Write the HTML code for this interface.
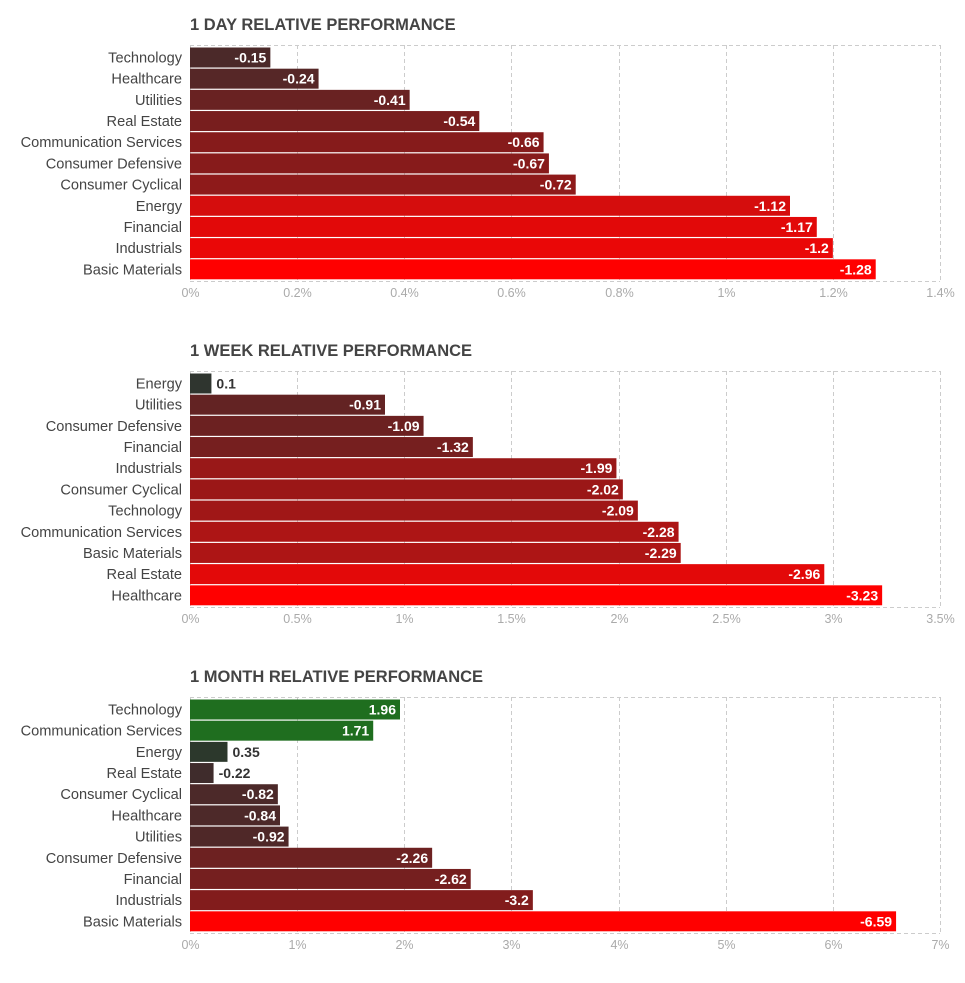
<!DOCTYPE html>
<html><head><meta charset="utf-8">
<style>
body{margin:0;background:#fff;width:965px;height:978px;overflow:hidden;font-family:"Liberation Sans",sans-serif}
svg text{font-family:"Liberation Sans",sans-serif}
</style></head>
<body>
<svg id="s" width="965" height="978"></svg>
<script>
const dayCats=["Technology","Healthcare","Utilities","Real Estate","Communication Services","Consumer Defensive","Consumer Cyclical","Energy","Financial","Industrials","Basic Materials"];
const dayVals=[-0.15,-0.24,-0.41,-0.54,-0.66,-0.67,-0.72,-1.12,-1.17,-1.2,-1.28];
const dayTicks=["0%","0.2%","0.4%","0.6%","0.8%","1%","1.2%","1.4%"];
const weekCats=["Energy","Utilities","Consumer Defensive","Financial","Industrials","Consumer Cyclical","Technology","Communication Services","Basic Materials","Real Estate","Healthcare"];
const weekVals=[0.1,-0.91,-1.09,-1.32,-1.99,-2.02,-2.09,-2.28,-2.29,-2.96,-3.23];
const weekTicks=["0%","0.5%","1%","1.5%","2%","2.5%","3%","3.5%"];
const monthCats=["Technology","Communication Services","Energy","Real Estate","Consumer Cyclical","Healthcare","Utilities","Consumer Defensive","Financial","Industrials","Basic Materials"];
const monthVals=[1.96,1.71,0.35,-0.22,-0.82,-0.84,-0.92,-2.26,-2.62,-3.2,-6.59];
const monthTicks=["0%","1%","2%","3%","4%","5%","6%","7%"];
const dayMax=1.4, weekMax=3.5, monthMax=7;

const NS="http://www.w3.org/2000/svg";
const svg=document.getElementById('s');
function mk(t,a,p){const e=document.createElementNS(NS,t);for(const k in a)e.setAttribute(k,a[k]);(p||svg).appendChild(e);return e;}
function lerp(a,b,t){return a.map((v,i)=>Math.round(v+(b[i]-v)*t));}
function color(v,maxAbs){
  if(v>=0){const t=Math.min(1,v/1.5);const c=t<0.5?lerp([48,52,48],[40,60,40],t/0.5):lerp([40,60,40],[31,110,31],(t-0.5)/0.5);return `rgb(${c})`;}
  const t=Math.min(1,Math.abs(v)/maxAbs);
  let c;
  if(t<0.55)c=lerp([58,45,45],[139,26,26],t/0.55);
  else if(t<0.85)c=lerp([139,26,26],[204,16,16],(t-0.55)/0.3);
  else c=lerp([204,16,16],[255,0,0],(t-0.85)/0.15);
  return `rgb(${c})`;
}
function chart(name,title,cats,vals,ticks,max,top){
  const g=mk('g',{});
  
  
  const x0=190,x1=940,y0=top,y1=top+236;
  const xs=v=>x0+Math.abs(v)/max*(x1-x0);
  const tt=mk('text',{x:190,y:top-15,'font-size':16.5,'font-weight':'bold',fill:'#444'},g);
  tt.textContent=title;
  
  
  mk('line',{x1:x0,x2:x1,y1:y0+0.5,y2:y0+0.5,stroke:'#ccc','stroke-dasharray':'4,3'},g);
  mk('line',{x1:x0,x2:x1,y1:y1+0.5,y2:y1+0.5,stroke:'#ccc','stroke-dasharray':'4,3'},g);
  ticks.forEach((t,i)=>{
    const v=max*i/(ticks.length-1);const x=Math.round(xs(v))+0.5;
    mk('line',{x1:x,x2:x,y1:y0,y2:y1,stroke:'#ccc','stroke-dasharray':'4,3'},g);
    const tx=mk('text',{x:x,y:y1+16,'font-size':12.5,fill:'#aaa','text-anchor':'middle'},g);
    tx.textContent=t;
    
    
  });
  const ph=233/11;
  const mx=Math.max(...vals.map(Math.abs));
  cats.forEach((c,i)=>{
    const yt=y0+2.5+i*ph, v=vals[i], w=xs(v)-x0;
    const r=mk('rect',{x:x0,y:yt,width:w,height:ph-1.2,fill:color(v,mx)},g);
    
    
    const cl=mk('text',{x:182,y:yt+15,'font-size':14.6,fill:'#444','text-anchor':'end'},g);
    cl.textContent=c;
    
    
    const lab=String(v);
    const inside=w>50;
    const vl=mk('text',{x:inside?x0+w-4:x0+w+5,y:yt+15,'font-size':14,'font-weight':'bold',fill:inside?'#fff':'#333','text-anchor':inside?'end':'start'},g);
    vl.textContent=lab;
    
    
  });
}
chart('day-chart','1 DAY RELATIVE PERFORMANCE',dayCats,dayVals,dayTicks,dayMax,45);
chart('week-chart','1 WEEK RELATIVE PERFORMANCE',weekCats,weekVals,weekTicks,weekMax,371);
chart('month-chart','1 MONTH RELATIVE PERFORMANCE',monthCats,monthVals,monthTicks,monthMax,697);
</script>
</body></html>
